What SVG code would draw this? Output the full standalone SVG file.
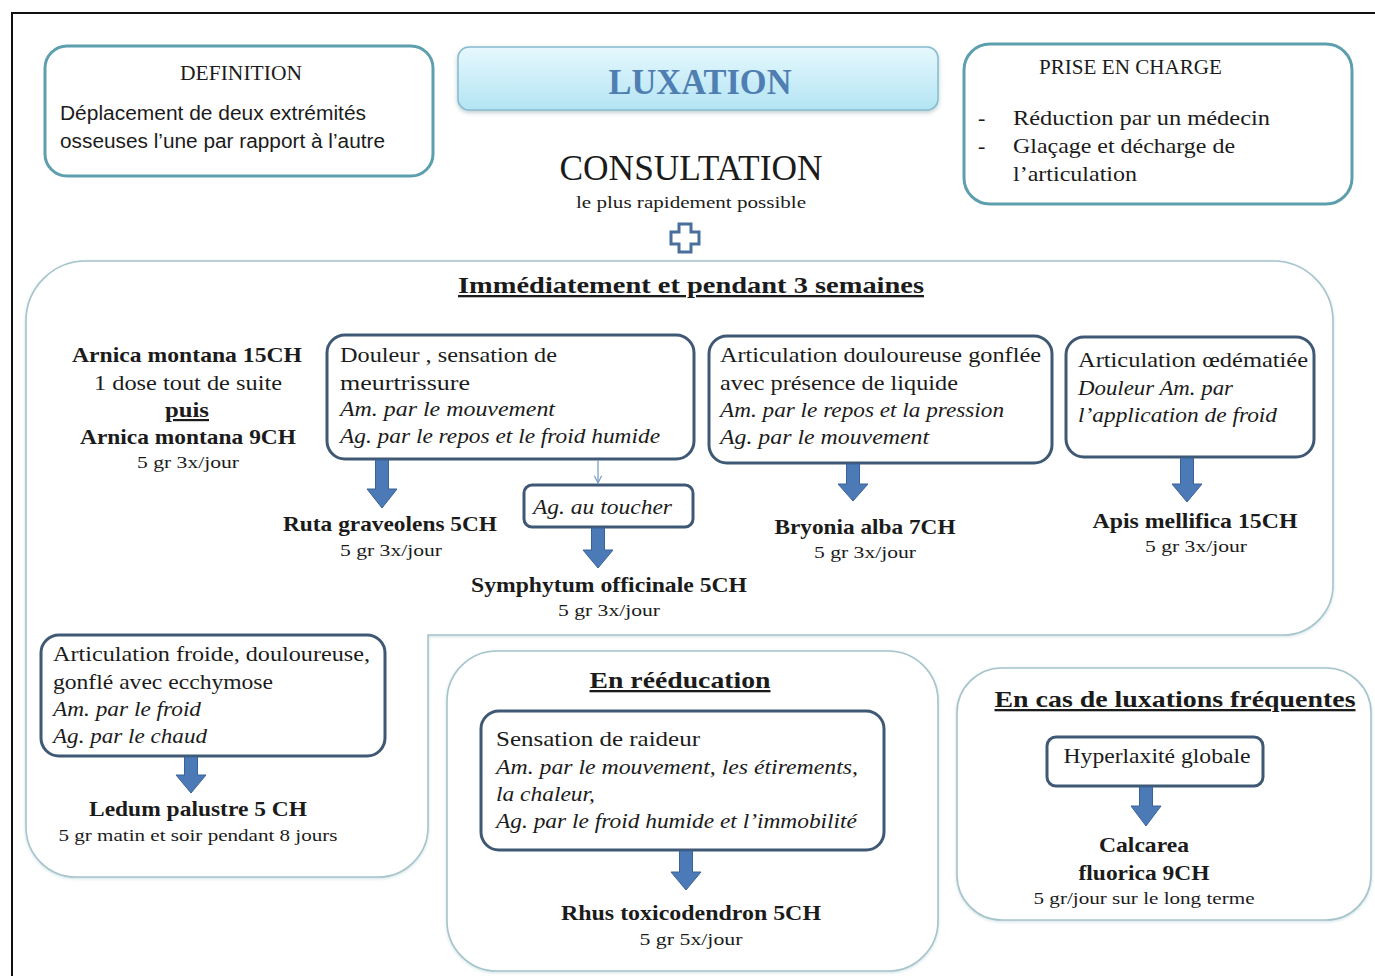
<svg xmlns="http://www.w3.org/2000/svg" width="1375" height="976" viewBox="0 0 1375 976">
  <defs>
    <linearGradient id="bannerFill" x1="0" y1="0" x2="0" y2="1">
      <stop offset="0" stop-color="#e6f8fd"/>
      <stop offset="1" stop-color="#b3e4f4"/>
    </linearGradient>
    <filter id="soft" x="-5%" y="-10%" width="110%" height="130%">
      <feDropShadow dx="0" dy="2" stdDeviation="2" flood-color="#6f8f99" flood-opacity="0.45"/>
    </filter>
    <filter id="halo" x="-5%" y="-5%" width="110%" height="110%">
      <feDropShadow dx="0" dy="1" stdDeviation="1.5" flood-color="#9fc3cc" flood-opacity="0.5"/>
    </filter>
    <marker id="thinHead" viewBox="0 0 10 10" refX="9" refY="5" markerWidth="7" markerHeight="7" orient="auto">
      <path d="M1,1 L9,5 L1,9" fill="none" stroke="#7b9cc2" stroke-width="1.3"/>
    </marker>
  </defs>
  <style>
    text { font-family: "Liberation Serif", "DejaVu Serif", serif; fill: #1b1b1b; }
    .sans { font-family: "Liberation Sans", "Noto Sans", sans-serif; }
    .body { font-size: 22px; }
    .it { font-style: italic; }
    .med { font-size: 22px; font-weight: bold; }
    .dose { font-size: 16px; }
    .title { font-size: 23px; font-weight: bold; text-decoration: underline; }
    .head { font-size: 21px; }
    .frame { fill: #ffffff; stroke: #a6c4cb; stroke-width: 1.6; }
    .teal { fill: #ffffff; stroke: #5d9fae; stroke-width: 3; }
    .card { fill: #ffffff; stroke: #3f5874; stroke-width: 3; }
    .arrow { fill: #4b7ab7; stroke: #3b6297; stroke-width: 1; }
    .thin { stroke: #7b9cc2; stroke-width: 1.3; fill: none; }
  </style>

  <rect width="1375" height="976" fill="#ffffff"/>
  <!-- page border -->
  <path d="M12,976 V13 H1375" fill="none" stroke="#111111" stroke-width="2"/>

  <!-- containers -->
  <g id="acute-phase">
    <path class="frame" filter="url(#halo)" d="M26,321 A60,60 0 0 1 86,261 H1273 A60,60 0 0 1 1333,321 V585 A50,50 0 0 1 1283,635 H428 V827 A50,50 0 0 1 378,877 H76 A50,50 0 0 1 26,827 Z"/>
    <text class="title" x="691" y="293" text-anchor="middle" textLength="466" lengthAdjust="spacingAndGlyphs">Immédiatement et pendant 3 semaines</text>
  </g>
  <g id="rehab">
    <rect class="frame" filter="url(#halo)" x="447" y="651" width="491" height="320" rx="50"/>
    <text class="title" x="680" y="688" text-anchor="middle" textLength="181" lengthAdjust="spacingAndGlyphs">En rééducation</text>
  </g>
  <g id="recurrent">
    <rect class="frame" filter="url(#halo)" x="957" y="668" width="414" height="252" rx="45"/>
    <text class="title" x="1175" y="707" text-anchor="middle" textLength="361" lengthAdjust="spacingAndGlyphs">En cas de luxations fréquentes</text>
  </g>

  <!-- header -->
  <g id="definition">
    <rect class="teal" x="45" y="46" width="388" height="130" rx="22"/>
    <text class="head" x="241" y="80" text-anchor="middle" textLength="122" lengthAdjust="spacingAndGlyphs">DEFINITION</text>
    <text class="sans" font-size="20" x="60" y="120" textLength="306" lengthAdjust="spacingAndGlyphs">Déplacement de deux extrémités</text>
    <text class="sans" font-size="20" x="60" y="148" textLength="325" lengthAdjust="spacingAndGlyphs">osseuses l’une par rapport à l’autre</text>
  </g>
  <g id="luxation">
    <rect x="458" y="47" width="480" height="63" rx="11" fill="url(#bannerFill)" stroke="#86bccd" stroke-width="1.5" filter="url(#soft)"/>
    <text x="700" y="94" text-anchor="middle" font-size="36" font-weight="bold" style="fill:#4f7fb2" textLength="183" lengthAdjust="spacingAndGlyphs">LUXATION</text>
  </g>
  <g id="consultation">
    <text x="691" y="180" text-anchor="middle" font-size="36" textLength="263" lengthAdjust="spacingAndGlyphs">CONSULTATION</text>
    <text x="691" y="208" text-anchor="middle" class="dose" font-size="17" textLength="230" lengthAdjust="spacingAndGlyphs">le plus rapidement possible</text>
    <path d="M679,224 H691 V232 H699 V244 H691 V252 H679 V244 H671 V232 H679 Z" fill="#ffffff" stroke="#4a6f9c" stroke-width="3" stroke-linejoin="miter"/>
  </g>
  <g id="prise-en-charge">
    <rect class="teal" x="964" y="44" width="388" height="160" rx="26"/>
    <text class="head" x="1039" y="74" textLength="183" lengthAdjust="spacingAndGlyphs">PRISE EN CHARGE</text>
    <text class="body" x="978" y="125">-</text>
    <text class="body" x="1013" y="125" textLength="257" lengthAdjust="spacingAndGlyphs">Réduction par un médecin</text>
    <text class="body" x="978" y="153">-</text>
    <text class="body" x="1013" y="153" textLength="222" lengthAdjust="spacingAndGlyphs">Glaçage et décharge de</text>
    <text class="body" x="1013" y="181" textLength="124" lengthAdjust="spacingAndGlyphs">l’articulation</text>
  </g>

  <!-- acute phase content -->
  <g id="arnica">
    <text class="med" x="187" y="362" text-anchor="middle" textLength="230" lengthAdjust="spacingAndGlyphs">Arnica montana 15CH</text>
    <text class="body" x="188" y="390" text-anchor="middle" textLength="188" lengthAdjust="spacingAndGlyphs">1 dose tout de suite</text>
    <text class="med" x="187" y="417" text-anchor="middle" text-decoration="underline" textLength="44" lengthAdjust="spacingAndGlyphs">puis</text>
    <text class="med" x="188" y="444" text-anchor="middle" textLength="216" lengthAdjust="spacingAndGlyphs">Arnica montana 9CH</text>
    <text class="dose" x="188" y="468" text-anchor="middle" textLength="102" lengthAdjust="spacingAndGlyphs">5 gr 3x/jour</text>
  </g>
  <g id="douleur">
    <rect class="card" x="327" y="335" width="367" height="124" rx="18"/>
    <text class="body" x="340" y="362" textLength="217" lengthAdjust="spacingAndGlyphs">Douleur , sensation de</text>
    <text class="body" x="340" y="390" textLength="130" lengthAdjust="spacingAndGlyphs">meurtrissure</text>
    <text class="body it" x="340" y="416" textLength="215" lengthAdjust="spacingAndGlyphs">Am. par le mouvement</text>
    <text class="body it" x="340" y="443" textLength="320" lengthAdjust="spacingAndGlyphs">Ag. par le repos et le froid humide</text>
  </g>
  <g id="ruta">
    <text class="med" x="390" y="531" text-anchor="middle" textLength="214" lengthAdjust="spacingAndGlyphs">Ruta graveolens 5CH</text>
    <text class="dose" x="391" y="556" text-anchor="middle" textLength="102" lengthAdjust="spacingAndGlyphs">5 gr 3x/jour</text>
  </g>
  <g id="toucher">
    <rect class="card" x="524" y="485" width="169" height="42" rx="8"/>
    <text class="body it" x="533" y="514" textLength="139" lengthAdjust="spacingAndGlyphs">Ag. au toucher</text>
  </g>
  <g id="symphytum">
    <text class="med" x="609" y="592" text-anchor="middle" textLength="276" lengthAdjust="spacingAndGlyphs">Symphytum officinale 5CH</text>
    <text class="dose" x="609" y="616" text-anchor="middle" textLength="102" lengthAdjust="spacingAndGlyphs">5 gr 3x/jour</text>
  </g>
  <g id="gonflee">
    <rect class="card" x="709" y="336" width="343" height="127" rx="18"/>
    <text class="body" x="720" y="362" textLength="321" lengthAdjust="spacingAndGlyphs">Articulation douloureuse gonflée</text>
    <text class="body" x="720" y="390" textLength="238" lengthAdjust="spacingAndGlyphs">avec présence de liquide</text>
    <text class="body it" x="720" y="417" textLength="284" lengthAdjust="spacingAndGlyphs">Am. par le repos et la pression</text>
    <text class="body it" x="720" y="444" textLength="209" lengthAdjust="spacingAndGlyphs">Ag. par le mouvement</text>
  </g>
  <g id="bryonia">
    <text class="med" x="865" y="534" text-anchor="middle" textLength="181" lengthAdjust="spacingAndGlyphs">Bryonia alba 7CH</text>
    <text class="dose" x="865" y="558" text-anchor="middle" textLength="102" lengthAdjust="spacingAndGlyphs">5 gr 3x/jour</text>
  </g>
  <g id="oedeme">
    <rect class="card" x="1066" y="337" width="248" height="120" rx="18"/>
    <text class="body" x="1078" y="367" textLength="230" lengthAdjust="spacingAndGlyphs">Articulation œdématiée</text>
    <text class="body it" x="1078" y="395" textLength="155" lengthAdjust="spacingAndGlyphs">Douleur Am. par</text>
    <text class="body it" x="1078" y="422" textLength="199" lengthAdjust="spacingAndGlyphs">l’application de froid</text>
  </g>
  <g id="apis">
    <text class="med" x="1195" y="528" text-anchor="middle" textLength="205" lengthAdjust="spacingAndGlyphs">Apis mellifica 15CH</text>
    <text class="dose" x="1196" y="552" text-anchor="middle" textLength="102" lengthAdjust="spacingAndGlyphs">5 gr 3x/jour</text>
  </g>
  <g id="froide">
    <rect class="card" x="41" y="635" width="344" height="121" rx="18"/>
    <text class="body" x="53" y="661" textLength="317" lengthAdjust="spacingAndGlyphs">Articulation froide, douloureuse,</text>
    <text class="body" x="53" y="689" textLength="220" lengthAdjust="spacingAndGlyphs">gonflé avec ecchymose</text>
    <text class="body it" x="53" y="716" textLength="148" lengthAdjust="spacingAndGlyphs">Am. par le froid</text>
    <text class="body it" x="53" y="743" textLength="154" lengthAdjust="spacingAndGlyphs">Ag. par le chaud</text>
  </g>
  <g id="ledum">
    <text class="med" x="198" y="816" text-anchor="middle" textLength="218" lengthAdjust="spacingAndGlyphs">Ledum palustre 5 CH</text>
    <text class="dose" x="198" y="841" text-anchor="middle" textLength="279" lengthAdjust="spacingAndGlyphs">5 gr matin  et soir pendant 8 jours</text>
  </g>

  <!-- rehabilitation content -->
  <g id="raideur">
    <rect class="card" x="481" y="711" width="403" height="139" rx="18"/>
    <text class="body" x="496" y="746" textLength="204" lengthAdjust="spacingAndGlyphs">Sensation de raideur</text>
    <text class="body it" x="496" y="774" textLength="362" lengthAdjust="spacingAndGlyphs">Am. par le mouvement, les étirements,</text>
    <text class="body it" x="496" y="801" textLength="99" lengthAdjust="spacingAndGlyphs">la chaleur,</text>
    <text class="body it" x="496" y="828" textLength="361" lengthAdjust="spacingAndGlyphs">Ag. par le froid humide et l’immobilité</text>
  </g>
  <g id="rhus">
    <text class="med" x="691" y="920" text-anchor="middle" textLength="260" lengthAdjust="spacingAndGlyphs">Rhus toxicodendron 5CH</text>
    <text class="dose" x="691" y="945" text-anchor="middle" textLength="103" lengthAdjust="spacingAndGlyphs">5 gr 5x/jour</text>
  </g>

  <!-- recurrence content -->
  <g id="hyperlaxite">
    <rect class="card" x="1047" y="737" width="216" height="49" rx="9"/>
    <text class="body" x="1157" y="763" text-anchor="middle" textLength="187" lengthAdjust="spacingAndGlyphs">Hyperlaxité globale</text>
  </g>
  <g id="calcarea">
    <text class="med" x="1144" y="852" text-anchor="middle" textLength="90" lengthAdjust="spacingAndGlyphs">Calcarea</text>
    <text class="med" x="1144" y="880" text-anchor="middle" textLength="131" lengthAdjust="spacingAndGlyphs">fluorica 9CH</text>
    <text class="dose" x="1144" y="904" text-anchor="middle" textLength="221" lengthAdjust="spacingAndGlyphs">5 gr/jour sur le long terme</text>
  </g>

  <!-- connectors -->
  <g id="connectors">
    <path class="arrow" d="M375.5,460 H388.5 V489 H397 L382,508 L367,489 H375.5 Z"/>
    <line class="thin" x1="598" y1="460" x2="598" y2="483" marker-end="url(#thinHead)"/>
    <path class="arrow" d="M591.5,528 H604.5 V550 H613 L598,568 L583,550 H591.5 Z"/>
    <path class="arrow" d="M846.5,464 H859.5 V484 H868 L853,501 L838,484 H846.5 Z"/>
    <path class="arrow" d="M1180.5,458 H1193.5 V484 H1202 L1187,502 L1172,484 H1180.5 Z"/>
    <path class="arrow" d="M184.5,757 H197.5 V775 H206 L191,793 L176,775 H184.5 Z"/>
    <path class="arrow" d="M679.5,851 H692.5 V872 H701 L686,890 L671,872 H679.5 Z"/>
    <path class="arrow" d="M1139.5,787 H1152.5 V806 H1161 L1146,826 L1131,806 H1139.5 Z"/>
  </g>
</svg>
